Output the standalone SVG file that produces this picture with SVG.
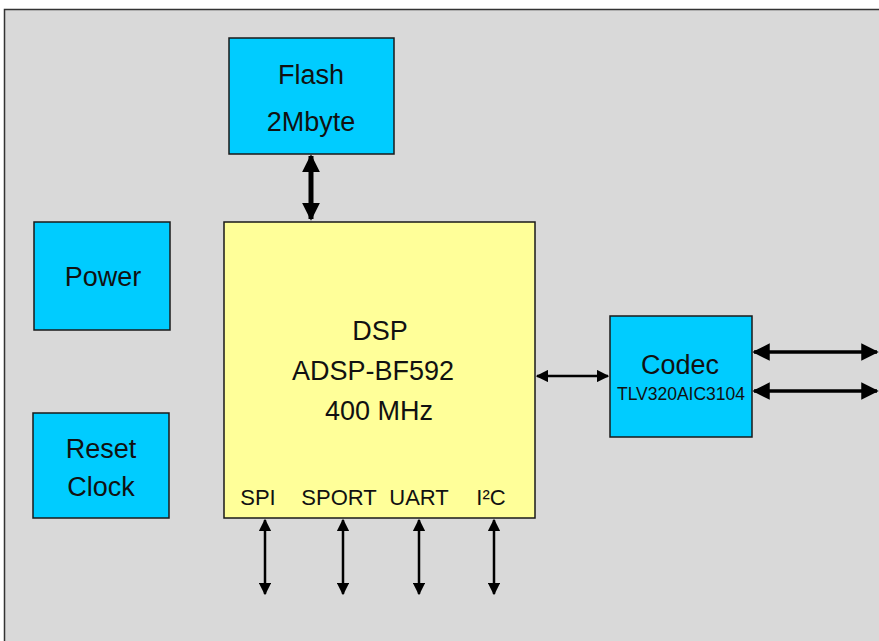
<svg xmlns="http://www.w3.org/2000/svg" width="879" height="641" viewBox="0 0 879 641">
<defs>
<style>
.box{stroke:#1a1a1a;stroke-width:1.5}
.cy{fill:#00ccff}
.ye{fill:#ffff99}
.t{font-family:"Liberation Sans",Arial,sans-serif;fill:#111;text-anchor:middle}
.l{font-size:27px}
.s{font-size:22px}
.c{stroke:#000;fill:none}
</style>
<marker id="ah" viewBox="0 0 10 10" refX="9" refY="5" markerWidth="5" markerHeight="5" orient="auto-start-reverse" markerUnits="strokeWidth"><path d="M0,0 L10,5 L0,10 z" fill="#000"/></marker>
<marker id="ahb" viewBox="0 0 10 10" refX="9" refY="5" markerWidth="3.6" markerHeight="4.2" orient="auto-start-reverse" markerUnits="strokeWidth"><path d="M0,0 L10,5 L0,10 z" fill="#000"/></marker>
</defs>
<rect x="0" y="0" width="879" height="641" fill="#ffffff"/>
<rect x="4.5" y="9.5" width="880" height="640" fill="#d9d9d9" stroke="#333" stroke-width="1.5"/>
<g id="connectors">
<line class="c" x1="311" y1="156" x2="311" y2="219" stroke-width="5" marker-start="url(#ahb)" marker-end="url(#ahb)"/>
<line class="c" x1="537" y1="376" x2="608" y2="376" stroke-width="2.5" marker-start="url(#ah)" marker-end="url(#ah)"/>
<line class="c" x1="754" y1="352" x2="877" y2="352" stroke-width="3.5" marker-start="url(#ah)" marker-end="url(#ah)"/>
<line class="c" x1="754" y1="391" x2="877" y2="391" stroke-width="3.5" marker-start="url(#ah)" marker-end="url(#ah)"/>
<line class="c" x1="265" y1="520" x2="265" y2="594" stroke-width="2.5" marker-start="url(#ah)" marker-end="url(#ah)"/>
<line class="c" x1="343" y1="520" x2="343" y2="594" stroke-width="2.5" marker-start="url(#ah)" marker-end="url(#ah)"/>
<line class="c" x1="419" y1="520" x2="419" y2="594" stroke-width="2.5" marker-start="url(#ah)" marker-end="url(#ah)"/>
<line class="c" x1="494" y1="520" x2="494" y2="594" stroke-width="2.5" marker-start="url(#ah)" marker-end="url(#ah)"/>
</g>
<g id="flash">
<rect class="box cy" x="229" y="38" width="165" height="116"/>
<text class="t l" x="311" y="84">Flash</text>
<text class="t l" x="311" y="131">2Mbyte</text>
</g>
<g id="power">
<rect class="box cy" x="34" y="222" width="136" height="108"/>
<text class="t l" x="103" y="286">Power</text>
</g>
<g id="reset">
<rect class="box cy" x="33" y="413" width="136" height="105"/>
<text class="t l" x="101" y="458">Reset</text>
<text class="t l" x="101" y="496">Clock</text>
</g>
<g id="dsp">
<rect class="box ye" x="224" y="222" width="311" height="296"/>
<text class="t l" x="380" y="340">DSP</text>
<text class="t l" x="373" y="380">ADSP-BF592</text>
<text class="t l" x="379" y="420">400 MHz</text>
<text class="t s" x="258" y="505">SPI</text>
<text class="t s" x="339" y="505">SPORT</text>
<text class="t s" x="419" y="505">UART</text>
<text class="t s" x="491" y="505">I²C</text>
</g>
<g id="codec">
<rect class="box cy" x="610" y="316" width="142" height="121"/>
<text class="t l" x="680" y="374">Codec</text>
<text class="t" x="681" y="400" style="font-size:17.5px">TLV320AIC3104</text>
</g>
</svg>
